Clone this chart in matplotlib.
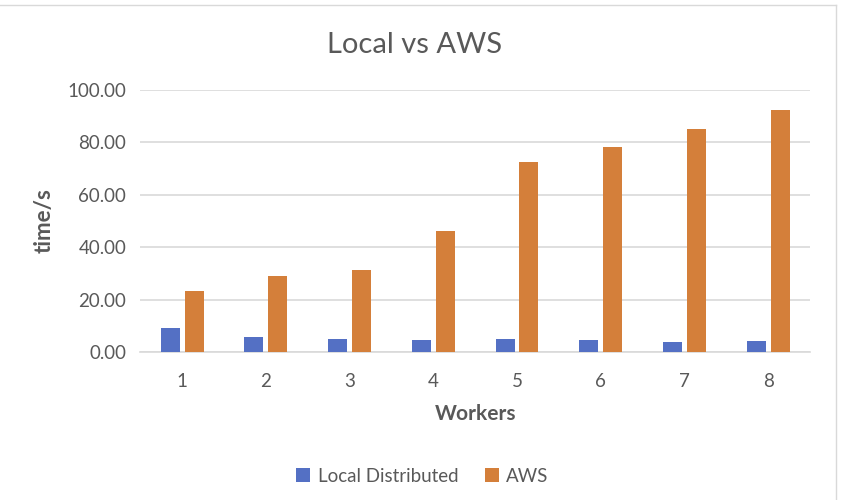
import matplotlib.pyplot as plt
import numpy as np
from matplotlib.lines import Line2D

plt.rcParams['font.family'] = ['Lato', 'DejaVu Sans']

# chart data
workers = ['1', '2', '3', '4', '5', '6', '7', '8']
local_distributed = [9.0, 5.8, 4.8, 4.4, 4.8, 4.4, 3.9, 4.2]
aws = [23.2, 29.1, 31.2, 46.3, 72.7, 78.3, 85.0, 92.4]

blue = '#5470C4'
orange = '#D47F3A'
text_gray = '#595959'
grid_gray = '#D9D9D9'

fig = plt.figure(figsize=(8.5, 5), dpi=100)
ax = fig.add_axes([0.165, 0.296, 0.788, 0.524])

x = np.arange(len(workers))
w = 0.227
off = 0.143
ax.bar(x - off, local_distributed, width=w, color=blue, label='Local Distributed', zorder=3)
ax.bar(x + off, aws, width=w, color=orange, label='AWS', zorder=3)

ax.set_xlim(-0.5, len(workers) - 0.5)
ax.set_ylim(0, 100)
ax.set_yticks(np.arange(0, 101, 20))
ax.set_yticklabels([f'{v:.2f}' for v in np.arange(0, 101, 20)])
ax.set_xticks(x)
ax.set_xticklabels(workers)

ax.grid(axis='y', color=grid_gray, linewidth=1.2, zorder=0)
for s in ['top', 'right', 'left']:
    ax.spines[s].set_visible(False)
ax.spines['bottom'].set_color(grid_gray)
ax.spines['bottom'].set_linewidth(1.2)
ax.tick_params(length=0, labelsize=13.5, colors=text_gray, pad=10)
ax.tick_params(axis='x', pad=15)

fig.text(415 / 850, 1 - 45 / 500, 'Local vs AWS', fontsize=21, color=text_gray,
         ha='center', va='center')
ax.set_xlabel('Workers', fontsize=15, fontweight='bold', color=text_gray, labelpad=10)
ax.set_ylabel('time/s', fontsize=16, fontweight='bold', color=text_gray, labelpad=9)

leg = fig.legend(loc='center', bbox_to_anchor=(0.497, 0.048), ncol=2, frameon=False,
                 fontsize=13.5, handlelength=0.75, handleheight=0.75, handletextpad=0.4,
                 columnspacing=1.4)
for t in leg.get_texts():
    t.set_color(text_gray)

# chart frame
fig.add_artist(Line2D([0, 836 / 850], [1 - 4.5 / 500] * 2, color=grid_gray, lw=1, transform=fig.transFigure))
fig.add_artist(Line2D([836 / 850] * 2, [0, 1 - 4.5 / 500], color=grid_gray, lw=1, transform=fig.transFigure))

fig.savefig('out.png', dpi=100)
